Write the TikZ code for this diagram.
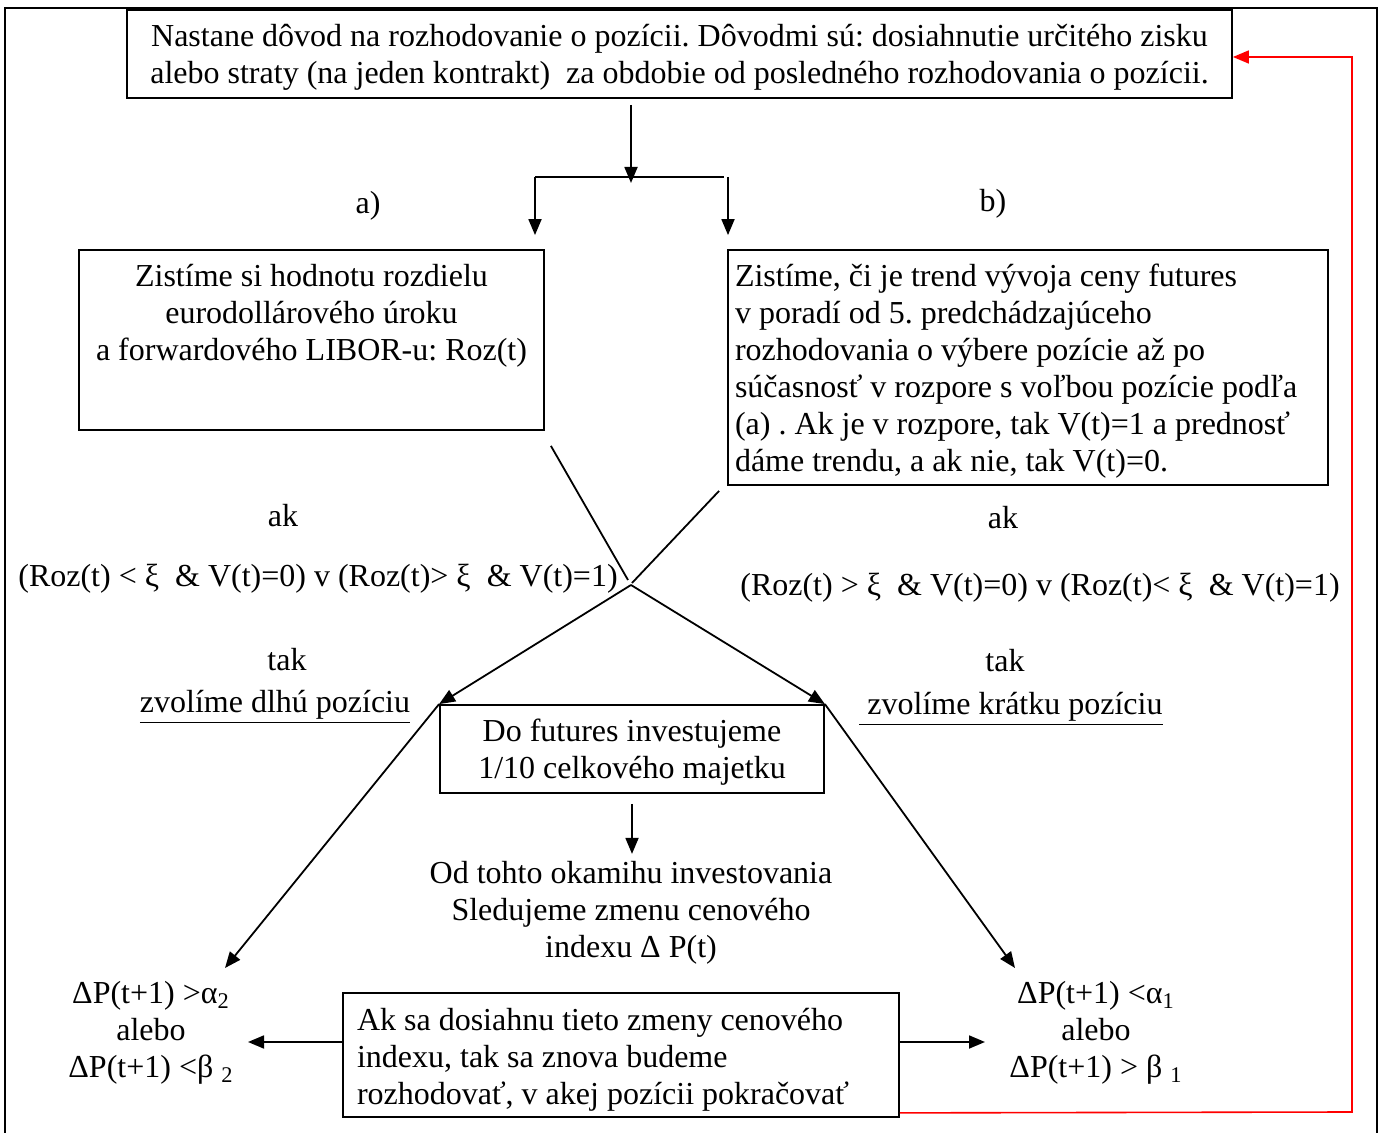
\documentclass[tikz,border=0pt]{standalone}
\usepackage{fontspec}
\setmainfont{Liberation Serif}
\usetikzlibrary{arrows.meta,calc}
\frenchspacing
\tikzset{
  lw/.style={line width=0.9pt},
  arr/.style={lw,-{Triangle[length=8pt,width=6.5pt]}},
  box/.style={draw,lw,inner sep=0pt},
  txt/.style={inner sep=0pt,align=center},
}
\begin{document}
\begin{tikzpicture}[x=0.5pt,y=-0.5pt,font=\fontsize{16pt}{18.5pt}\selectfont]
\clip (0,0) rectangle (1383,1133);
\draw[lw] (5,8) rectangle (1377,1160);

% boxes
\node[box] (top) at (679.5,54) {\parbox[c][44pt][t]{552.5pt}{\centering\rule{0pt}{18.5pt}Nastane dôvod na rozhodovanie o pozícii. Dôvodmi sú: dosiahnutie určitého zisku\\alebo straty (na jeden kontrakt)~ za obdobie od posledného rozhodovania o pozícii.}};
\node[box] (lb) at (311.5,340) {\parbox[c][90pt][t]{232.5pt}{\centering\rule{0pt}{18.5pt}Zistíme si hodnotu rozdielu\\eurodollárového úroku\\a forwardového LIBOR-u: Roz(t)}};
\node[box,inner xsep=3.5pt] (rb) at (1028,367.5) {\parbox[c][117.5pt][t]{293pt}{\raggedright\rule{0pt}{18.5pt}Zistíme, či je trend vývoja ceny futures\\v poradí od 5. predchádzajúceho\\rozhodovania o výbere pozície až po\\súčasnosť v rozpore s voľbou pozície podľa\\(a) . Ak je v rozpore, tak V(t)=1 a prednosť\\dáme trendu, a ak nie, tak V(t)=0.}};
\node[box] (cb) at (632,749) {\parbox[c][44pt][t]{192pt}{\centering\rule{0pt}{18.5pt}Do futures investujeme\\1/10 celkového majetku}};
\node[box,inner xsep=7pt] (bb) at (621,1055) {\parbox[c][62pt][t]{264pt}{\raggedright\rule{0pt}{18.5pt}Ak sa dosiahnu tieto zmeny cenového\\indexu, tak sa znova budeme\\rozhodovať, v akej pozícii pokračovať}};

% labels
\node[txt] (la) at (368,206) {a)};
\node[txt] (lbl) at (993,204) {b)};
\node[txt] (akL) at (283,516) {ak};
\node[txt] (akR) at (1003,518) {ak};
\node[txt] (condL) at (318,579) {(Roz(t) < ξ~ \& V(t)=0) v (Roz(t)> ξ~ \& V(t)=1)};
\node[txt] (condR) at (1040,588) {(Roz(t) > ξ~ \& V(t)=0) v (Roz(t)< ξ~ \& V(t)=1)};
\node[txt] (takL) at (287,660) {tak};
\node[txt] (takR) at (1005,661) {tak};
\node[txt] (longp) at (275,707) {\underline{zvolíme dlhú pozíciu}};
\node[txt] (shortp) at (1011,709) {\underline{\ zvolíme krátku pozíciu}};
\node[txt] (obs) at (631,913) {Od tohto okamihu investovania\\Sledujeme zmenu cenového\\indexu Δ P(t)};
\node[txt] (resL) at (151,1033) {ΔP(t+1) >α\textsubscript{2}\\alebo\\ΔP(t+1) <β \textsubscript{2}};
\node[txt] (resR) at (1096,1033) {ΔP(t+1) <α\textsubscript{1}\\alebo\\ΔP(t+1) > β \textsubscript{1}};

% coordinates
\coordinate (fork) at (631,177);
\coordinate (forkL) at (535,177);
\coordinate (forkE) at (724,177);
\coordinate (forkR) at (728,177);
\coordinate (meet) at (631,585);
\coordinate (dl) at (225,968);
\coordinate (dr) at (1015,968);
\coordinate (lpt) at (248,1042);
\coordinate (rpt) at (985,1042);
\coordinate (rc1) at (1352,1112);
\coordinate (rc2) at (1352,57);

% connectors
\draw[arr] ([yshift=-3pt]top.south -| fork) -- ([yshift=-3pt]fork);
\draw[lw] (forkL) -- (forkE);
\draw[arr] (forkL) -- ([yshift=7pt]forkL |- lb.north);
\draw[arr] (forkR) -- ([yshift=7pt]forkR |- rb.north);
\draw[lw] ([xshift=3pt,yshift=-7.5pt]lb.south east) -- ([xshift=-1.5pt,yshift=2.5pt]meet);
\draw[lw] ([xshift=-4pt,yshift=-2.5pt]rb.south west) -- ([xshift=0.5pt,yshift=1pt]meet);
\draw[arr] (meet) -- (cb.north west);
\draw[arr] (meet) -- (cb.north east);
\draw[arr] (cb.north west) -- (dl);
\draw[arr] (cb.north east) -- (dr);
\draw[arr] ([yshift=-5pt]cb.south) -- ([yshift=-30pt]cb.south);
\draw[arr] (bb.west |- lpt) -- (lpt);
\draw[arr] (bb.east |- rpt) -- (rpt);
\draw[line width=0.8pt,red,-{Triangle[length=8pt,width=6.5pt]}] ([yshift=2.5pt]bb.south east) -- (rc1) -- (rc2) -- (top.east |- rc2);
\end{tikzpicture}
\end{document}
